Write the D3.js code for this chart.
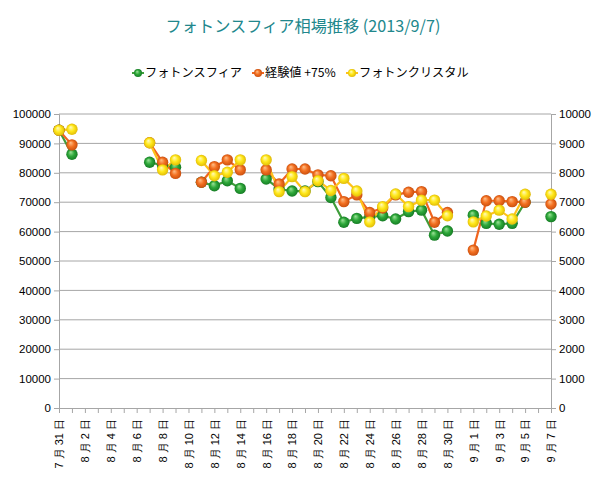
<!DOCTYPE html>
<html>
<head>
<meta charset="utf-8">
<script src="https://cdn.jsdelivr.net/npm/d3@7"></script>
<style>
  body { margin: 0; background: #fff; }
  svg { display: block; }
</style>
</head>
<body>
<svg id="chart" width="614" height="478"></svg>
<script>
// categories: one per day, 7/31 .. 9/7
const dates = ["7/31","8/1","8/2","8/3","8/4","8/5","8/6","8/7","8/8","8/9","8/10",
    "8/11","8/12","8/13","8/14","8/15","8/16","8/17","8/18","8/19","8/20",
    "8/21","8/22","8/23","8/24","8/25","8/26","8/27","8/28","8/29","8/30","8/31",
    "9/1","9/2","9/3","9/4","9/5","9/6","9/7"];

// フォトンスフィア (primary axis)
const sphere = [94500,86300,null,null,null,null,null,83600,82500,81900,null,
    76800,75600,77300,74700,null,77900,74500,73800,73800,77000,
    71600,63200,64500,65000,65400,64300,66800,67300,58800,60200,null,
    65600,62800,62500,62800,70000,null,65100];

// 経験値 +75% (primary axis)
const exp75 = [94500,89500,null,null,null,null,null,90200,83600,79800,null,
    76800,82100,84400,81000,null,81000,76200,81300,81300,79300,
    79000,70200,72500,66500,68000,72500,73400,73600,63200,66500,null,
    53700,70500,70500,70200,70000,null,69400];

// フォトンクリスタル (secondary axis)
const crystal = [9450,9480,null,null,null,null,null,9020,8100,8440,null,
    8420,7900,8020,8440,null,8440,7360,7870,7360,7730,
    7400,7810,7380,6330,6850,7280,6850,7070,7070,6540,null,
    6330,6530,6730,6430,7270,null,7270];

const leftTicks = [0,10000,20000,30000,40000,50000,60000,70000,80000,90000,100000];
const rightTicks = [0,1000,2000,3000,4000,5000,6000,7000,8000,9000,10000];

const titleText = "フォトンスフィア相場推移 (2013/9/7)";

const plot = {left: 59, right: 551, top: 114, bottom: 408};

const svg = d3.select("#chart");

const defs = svg.append("defs");
function ballGradient(id, light, mid, dark) {
    const g = defs.append("radialGradient")
        .attr("id", id)
        .attr("cx", "0.5").attr("cy", "0.55").attr("r", "0.6")
        .attr("fx", "0.38").attr("fy", "0.3");
    g.append("stop").attr("offset", "0%").attr("stop-color", light);
    g.append("stop").attr("offset", "45%").attr("stop-color", mid);
    g.append("stop").attr("offset", "100%").attr("stop-color", dark);
}
ballGradient("ballGreen", "#9fe39a", "#2ea83a", "#0c6a1c");
ballGradient("ballOrange", "#ffc08a", "#f37021", "#b84208");
ballGradient("ballYellow", "#fffbc0", "#ffe81a", "#d4a800");

const series = [
    {name: "フォトンスフィア", values: sphere, axis: "left", line: "#3f9d3a", ball: "url(#ballGreen)"},
    {name: "経験値 +75%", values: exp75, axis: "left", line: "#f0641e", ball: "url(#ballOrange)"},
    {name: "フォトンクリスタル", values: crystal, axis: "right", line: "#ffc21a", ball: "url(#ballYellow)"}
];

const x = d3.scalePoint()
    .domain(dates)
    .range([plot.left, plot.right]);

const yLeft = d3.scaleLinear().domain([0, 100000]).range([plot.bottom, plot.top]);
const yRight = d3.scaleLinear().domain([0, 10000]).range([plot.bottom, plot.top]);

// Title
svg.append("text")
    .attr("x", 303)
    .attr("y", 32)
    .attr("text-anchor", "middle")
    .style("font-family", "'Noto Sans CJK JP', sans-serif")
    .style("font-size", "16.2px")
    .style("fill", "#21878c")
    .text(titleText);

// Gridlines
svg.append("g")
    .selectAll("line")
    .data(leftTicks.slice(1))
    .join("line")
    .attr("x1", plot.left)
    .attr("x2", plot.right)
    .attr("y1", d => yLeft(d))
    .attr("y2", d => yLeft(d))
    .attr("stroke", "#a6a6a6")
    .attr("stroke-width", 1);

// Left axis
const leftAxis = svg.append("g")
    .attr("transform", `translate(${plot.left},0)`)
    .call(d3.axisLeft(yLeft).tickValues(leftTicks).tickSize(5).tickPadding(3).tickFormat(d3.format("d")));

// Right axis
const rightAxis = svg.append("g")
    .attr("transform", `translate(${plot.right},0)`)
    .call(d3.axisRight(yRight).tickValues(rightTicks).tickSize(5).tickPadding(3).tickFormat(d3.format("d")));

// Bottom axis: tick every day, label every 2 days
const bottomAxis = svg.append("g")
    .attr("transform", `translate(0,${plot.bottom})`)
    .call(d3.axisBottom(x).tickSize(5).tickFormat((d, i) => {
        if (i % 2 !== 0) return "";
        const p = d.split("/");
        return `${p[0]} 月 ${p[1]} 日`;
    }));

bottomAxis.selectAll("text")
    .attr("transform", "rotate(-90)")
    .attr("text-anchor", "end")
    .attr("x", -11)
    .attr("y", 0)
    .attr("dy", "0.35em");

[leftAxis, rightAxis, bottomAxis].forEach(a => {
    a.select(".domain").attr("stroke", "#a6a6a6");
    a.selectAll(".tick line").attr("stroke", "#a6a6a6");
    a.selectAll("text")
        .style("font-family", "'Liberation Sans', Arial, sans-serif")
        .style("font-size", "11.5px")
        .style("fill", "#000");
});
bottomAxis.selectAll("text").style("font-size", "11px");

// Lines and markers
const marks = svg.append("g");
series.forEach(s => {
    const yScale = s.axis === "left" ? yLeft : yRight;
    const line = d3.line()
        .defined(d => d != null)
        .x((d, i) => x(dates[i]))
        .y(d => yScale(d));
    marks.append("path")
        .datum(s.values)
        .attr("fill", "none")
        .attr("stroke", s.line)
        .attr("stroke-width", 2.2)
        .attr("d", line);
});
series.forEach(s => {
    const yScale = s.axis === "left" ? yLeft : yRight;
    const pts = s.values.map((v, i) => ({date: dates[i], v})).filter(d => d.v != null);
    marks.append("g")
        .selectAll("circle")
        .data(pts)
        .join("circle")
        .attr("cx", d => x(d.date))
        .attr("cy", d => yScale(d.v))
        .attr("r", 5.7)
        .attr("fill", s.ball);
});

// Legend
const legendItems = [
    {s: series[0], x: 132},
    {s: series[1], x: 252},
    {s: series[2], x: 346}
];
const legend = svg.append("g");
legendItems.forEach(it => {
    const g = legend.append("g").attr("transform", `translate(${it.x},72)`);
    g.append("line")
        .attr("x1", 0).attr("x2", 12)
        .attr("y1", 1).attr("y2", 1)
        .attr("stroke", it.s.line)
        .attr("stroke-width", 2);
    g.append("circle")
        .attr("cx", 6).attr("cy", 1)
        .attr("r", 4)
        .attr("fill", it.s.ball);
    g.append("text")
        .attr("x", 13)
        .attr("y", 1)
        .attr("dy", "0.35em")
        .style("font-family", "'Noto Sans CJK JP', sans-serif")
        .style("font-size", "12.2px")
        .style("fill", "#000")
        .text(it.s.name);
});
</script>
</body>
</html>
